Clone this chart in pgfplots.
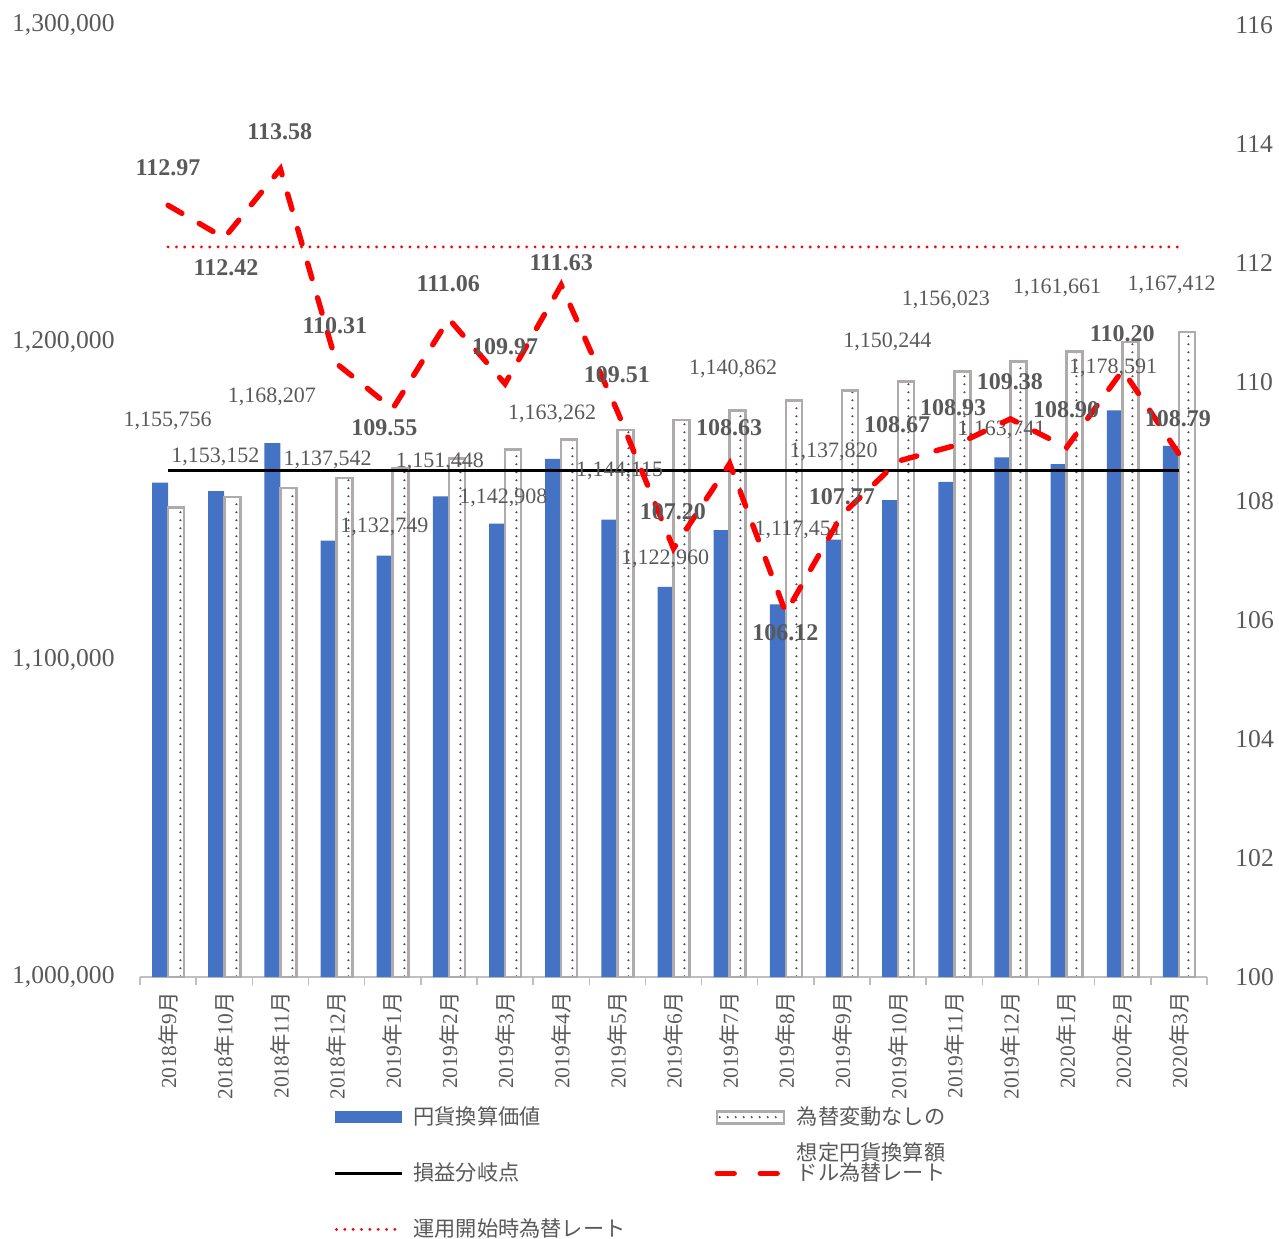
\documentclass[border=0pt]{standalone}
\usepackage{fontspec}
\setmainfont{Liberation Serif}
\newfontfamily\jp{Noto Sans CJK JP}
\usepackage{pgfplots}
\pgfplotsset{compat=1.18}
\usepackage{pgfplotstable}
\usetikzlibrary{patterns}

\definecolor{barblue}{HTML}{4472C4}
\definecolor{bargray}{HTML}{AFABAB}
\definecolor{txtgray}{HTML}{595959}
\definecolor{dotgray}{HTML}{505050}
\definecolor{axgray}{HTML}{BFBFBF}
\definecolor{rred}{HTML}{FF0000}

\pgfdeclarepatternformonly{bardots}{\pgfqpoint{0pt}{0pt}}{\pgfqpoint{28.0789pt}{4.17pt}}{\pgfqpoint{28.0789pt}{4.17pt}}{%
  \pgfpathcircle{\pgfqpoint{6.3pt}{2pt}}{0.6pt}\pgfusepath{fill}}
\pgfdeclarepatternformonly{legdots}{\pgfqpoint{0pt}{0pt}}{\pgfqpoint{4.17pt}{4.17pt}}{\pgfqpoint{4.17pt}{4.17pt}}{%
  \pgfpathcircle{\pgfqpoint{2pt}{2pt}}{0.6pt}\pgfusepath{fill}}

\newcommand{\ym}[2]{#1{\jp 年}#2{\jp 月}}

\pgfplotstableread{
x yen nochg
0 1155756 1148000
1 1153152 1151200
2 1168207 1154100
3 1137542 1157200
4 1132749 1160200
5 1151448 1163400
6 1142908 1166200
7 1163262 1169400
8 1144115 1172400
9 1122960 1175500
10 1140862 1178500
11 1117451 1181700
12 1137820 1184800
13 1150244 1187700
14 1156023 1190900
15 1163741 1194000
16 1161661 1197200
17 1178591 1200100
18 1167412 1203200
}\bars

\pgfplotstableread{
x rate
0 112.97
1 112.42
2 113.58
3 110.31
4 109.55
5 111.06
6 109.97
7 111.63
8 109.51
9 107.20
10 108.63
11 106.12
12 107.77
13 108.67
14 108.93
15 109.38
16 108.90
17 110.20
18 108.79
}\rates

\pgfplotstableread{
x y label
-0.01 1175300 1,155,756
0.84 1163800 1,153,152
1.85 1182700 1,168,207
2.84 1162900 1,137,542
3.85 1141900 1,132,749
4.84 1162400 1,151,448
5.97 1150900 1,142,908
6.84 1177600 1,163,262
8.04 1159500 1,144,115
8.85 1131900 1,122,960
10.06 1191600 1,140,862
11.22 1140900 1,117,451
11.85 1165500 1,137,820
12.81 1200000 1,150,244
13.85 1213300 1,156,023
14.84 1172400 1,163,741
15.83 1217000 1,161,661
16.83 1191800 1,178,591
17.87 1218100 1,167,412
}\yenlabels

\pgfplotstableread{
x y label
0.00 113.60 112.97
1.03 111.92 112.42
1.99 114.20 113.58
2.97 110.94 110.31
3.85 109.24 109.55
4.99 111.66 111.06
6.00 110.59 109.97
7.00 112.00 111.63
7.99 110.12 109.51
8.99 107.82 107.20
9.99 109.24 108.63
10.99 105.78 106.12
12.00 108.07 107.77
12.98 109.29 108.67
13.98 109.56 108.93
14.99 110.00 109.38
15.99 109.53 108.90
16.99 110.82 110.20
17.98 109.38 108.79
}\ratelabels

\begin{document}
\begin{tikzpicture}
\path[use as bounding box] (-70pt,-130.5pt) rectangle (569.5pt,488.5pt);
\begin{axis}[
  at={(0pt,0pt)}, anchor=south west,
  scale only axis, width=533.5pt, height=476pt,
  xmin=-0.5, xmax=18.5, ymin=1000000, ymax=1300000,
  separate axis lines,
  axis x line*=bottom, axis y line*=left,
  x axis line style={draw=axgray, line width=0.75pt, -},
  y axis line style={draw=none},
  major tick length=0pt,
  xtick={0,...,18},
  xticklabels={\ym{2018}{9},\ym{2018}{10},\ym{2018}{11},\ym{2018}{12},\ym{2019}{1},\ym{2019}{2},\ym{2019}{3},\ym{2019}{4},\ym{2019}{5},\ym{2019}{6},\ym{2019}{7},\ym{2019}{8},\ym{2019}{9},\ym{2019}{10},\ym{2019}{11},\ym{2019}{12},\ym{2020}{1},\ym{2020}{2},\ym{2020}{3}},
  xticklabel style={rotate=90, anchor=east, inner sep=0pt, font=\fontsize{10.7pt}{12pt}\selectfont, text=txtgray, xshift=-7.5pt},
  extra x ticks={-0.5,0.5,...,18.5},
  extra x tick labels={},
  extra x tick style={major tick length=4pt, tick align=outside, tick style={draw=axgray, line width=0.75pt}},
  ytick={1000000,1100000,1200000,1300000},
  yticklabels={{1,000,000},{1,100,000},{1,200,000},{1,300,000}},
  scaled y ticks=false,
  yticklabel style={anchor=east, inner sep=0pt, xshift=-12.5pt, font=\fontsize{12.8pt}{14pt}\selectfont, text=txtgray},
  ytick style={draw=none},
]
\addplot[ybar, bar width=0.285, bar shift=-0.1425, fill=barblue, draw=none] table[x=x, y=yen] {\bars};
\addplot[ybar, bar width=0.285, bar shift=0.1425, fill=white, draw=bargray, line width=1.3pt,
  postaction={pattern=bardots, pattern color=dotgray}] table[x=x, y=nochg] {\bars};
\addplot[black, line width=1.5pt] coordinates {(0,1159560) (18,1159560)};
\addplot[draw=none, nodes near coords, point meta=explicit symbolic,
  every node near coord/.append style={anchor=center, inner sep=0pt, font=\fontsize{11pt}{13pt}\selectfont, text=txtgray}]
  table[x=x, y=y, meta=label] {\yenlabels};
\end{axis}
\begin{axis}[
  at={(0pt,0pt)}, anchor=south west,
  scale only axis, width=533.5pt, height=476pt,
  xmin=-0.5, xmax=18.5, ymin=100, ymax=116,
  axis x line=none, axis y line*=right,
  y axis line style={draw=none},
  major tick length=0pt,
  ytick={100,102,...,116},
  yticklabels={100,102,104,106,108,110,112,114,116},
  yticklabel style={anchor=west, inner sep=0pt, xshift=14pt, font=\fontsize{12.8pt}{14pt}\selectfont, text=txtgray},
  ytick style={draw=none},
  legend columns=2,
  legend cell align=left,
  legend style={at={(0.18088,-0.1355)}, anchor=north west, draw=none, fill=none, inner sep=0pt,
    font=\jp\fontsize{10.6pt}{18pt}\selectfont, text=txtgray,
    nodes={inner sep=0pt, text height=9pt, text depth=2pt},
    column sep=5pt, row sep=17pt,
    /tikz/every even column/.append style={column sep=44.5pt}},
]
\addlegendimage{fill=barblue, draw=none, legend image code/.code={\fill[barblue] (0pt,-3pt) rectangle (33.5pt,3pt);}}
\addlegendentry{円貨換算価値}
\addlegendimage{legend image code/.code={\draw[fill=white, draw=bargray, line width=1.3pt, postaction={pattern=legdots, pattern color=dotgray}] (0pt,-3pt) rectangle (33.5pt,3pt);}}
\addlegendentry{\smash{\begin{tabular}[t]{@{}l@{}}為替変動なしの\\想定円貨換算額\end{tabular}}}
\addlegendimage{legend image code/.code={\draw[black, line width=1.5pt] (0pt,0pt) -- (33.5pt,0pt);}}
\addlegendentry{損益分岐点}
\addplot[rred, line width=2.7pt, dash pattern=on 8pt off 10pt, line cap=round,
  legend image code/.code={\draw[rred, line width=2.7pt, line cap=round, dash pattern=on 8.5pt off 13pt] (0pt,0pt) -- (33.5pt,0pt);}]
  table[x=x, y=rate] {\rates};
\addlegendentry{ドル為替レート}
\addplot[rred, line width=1.6pt, dash pattern=on 0pt off 4.17pt, line cap=round,
  legend image code/.code={\draw[rred, line width=1.6pt, line cap=round, dash pattern=on 0pt off 4.17pt] (0.8pt,0pt) -- (33.5pt,0pt);}]
  coordinates {(0,112.27) (18,112.27)};
\addlegendentry{運用開始時為替レート}
\addplot[draw=none, forget plot, nodes near coords, point meta=explicit symbolic,
  every node near coord/.append style={anchor=center, inner sep=0pt, font=\bfseries\fontsize{12pt}{14pt}\selectfont, text=txtgray}]
  table[x=x, y=y, meta=label] {\ratelabels};
\end{axis}
\end{tikzpicture}
\end{document}
